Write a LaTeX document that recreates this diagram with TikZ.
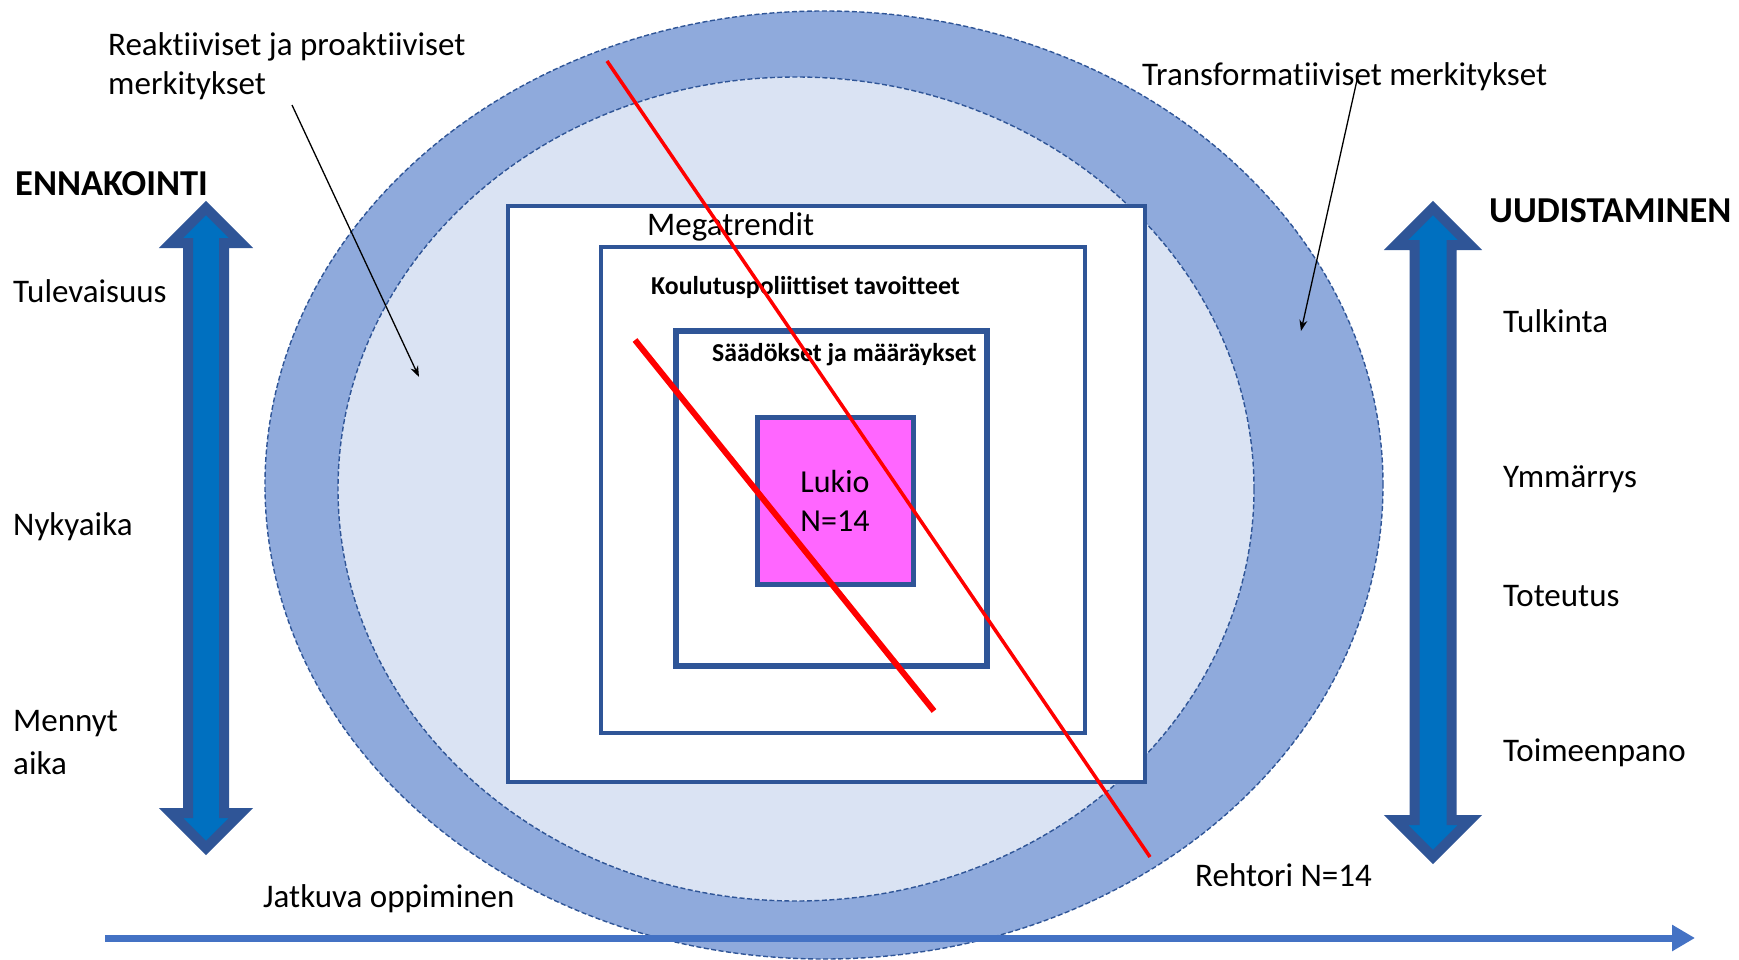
\documentclass[tikz,border=0pt]{standalone}
\usepackage{fontspec}
\setmainfont{Carlito}[Ligatures=NoCommon, RawFeature={-liga;-clig;-dlig}]
\usetikzlibrary{arrows.meta}

\definecolor{ringblue}{HTML}{8FAADC}
\definecolor{paleblue}{HTML}{DAE3F3}
\definecolor{frameblue}{HTML}{2F5597}
\definecolor{arrowblue}{HTML}{0070C0}
\definecolor{lineblue}{HTML}{4472C4}
\definecolor{lukiopink}{HTML}{FF66FF}
\definecolor{cutred}{HTML}{FF0000}

\begin{document}
\begin{tikzpicture}[x=1pt,y=-1pt,
  ring/.style={fill=#1, draw=frameblue, line width=1.4pt, dash pattern=on 5pt off 2.5pt},
  frame/.style={draw=frameblue, fill=white, line width=#1},
  blockarrow/.style={fill=arrowblue, draw=frameblue, line width=10pt, line join=miter, miter limit=10},
  label/.style={anchor=west, inner sep=0pt, font=\fontsize{33}{39}\selectfont},
  boldlabel/.style={anchor=west, inner sep=0pt, font=\fontsize{#1}{#1}\selectfont\bfseries},
  pointer/.style={draw=black, line width=1.3pt, -{Stealth[length=11pt,width=8pt]}},
  cut/.style={draw=cutred, line width=#1, line cap=butt}
]
\useasboundingbox (0,0) rectangle (1739,960);

% rings
\path[ring=ringblue] (824,485) ellipse [x radius=559pt, y radius=474pt];
\path[ring=paleblue] (796,489) ellipse [x radius=458pt, y radius=412pt];

% nested frames
\draw[frame=4.5pt] (508,206) rectangle (1145,782);
\draw[frame=4.5pt] (601,247) rectangle (1085,733);
\draw[frame=6pt] (676,331) rectangle (987,666);
\draw[draw=frameblue, fill=lukiopink, line width=5pt] (757,417) rectangle (913,584);

% time axis on the left, renewal axis on the right
\path[blockarrow] (206,208) -- (241,243) -- (224,243) -- (224,813) -- (241,813)
  -- (206,848) -- (171,813) -- (188,813) -- (188,243) -- (171,243) -- cycle;
\path[blockarrow] (1433,208) -- (1470,245) -- (1451.5,245) -- (1451.5,820) -- (1470,820)
  -- (1433,857) -- (1396,820) -- (1414.5,820) -- (1414.5,245) -- (1396,245) -- cycle;

% continuous learning axis
\coordinate (learnStart) at (105,938);
\coordinate (learnEnd) at (1695,938);
\draw[lineblue, line width=7pt, -{Triangle[length=23pt,width=25pt]}] (learnStart) -- (learnEnd);

% texts
\node[boldlabel=36.5] (ennakointi) at (15,184) {ENNAKOINTI};
\node[boldlabel=36.5] (uudistaminen) at (1489,211) {UUDISTAMINEN};

\node[label] (tulevaisuus) at (13,291) {Tulevaisuus};
\node[label] (nykyaika) at (13,527) {Nykyaika};
\node[label] (mennyt) at (13,724) {Mennyt};
\node[label] (aika) at (13,763) {aika};

\node[label] (tulkinta) at (1503,321) {Tulkinta};
\node[label] (ymmarrys) at (1503,479) {Ymmärrys};
\node[label] (toteutus) at (1503,596) {Toteutus};
\node[label] (toimeenpano) at (1503,753) {Toimeenpano};

\node[label] (reakt1) at (108,47) {Reaktiiviset ja proaktiiviset};
\node[label] (reakt2) at (108,86) {merkitykset};
\node[label] (transf) at (1142,77) {Transformatiiviset merkitykset};

\node[label] (jatkuva) at (263,899) {Jatkuva oppiminen};
\node[label] (rehtori) at (1195,875) {Rehtori N=14};

\node[label] (mega) at (647,227) {Megatrendit};
\node[boldlabel=25.8] (koulutus) at (651,287) {Koulutuspoliittiset tavoitteet};
\node[boldlabel=25.8] (saadokset) at (712,355) {Säädökset ja määräykset};
\node[align=center, inner sep=0pt, font=\fontsize{32}{39}\selectfont] (lukio) at (835,501) {Lukio\\N=14};

% pointers from the ring captions
\coordinate (reaktFrom) at (292,105);
\coordinate (reaktTo) at (419,377);
\coordinate (transfFrom) at (1357,80);
\coordinate (transfTo) at (1301,331);
\draw[pointer] (reaktFrom) -- (reaktTo);
\draw[pointer] (transfFrom) -- (transfTo);

% red cut lines
\coordinate (longA) at (607,61);
\coordinate (longB) at (1150,857);
\coordinate (shortA) at (635,340);
\coordinate (shortB) at (934,711);
\draw[cut=3.5pt] (longA) -- (longB);
\draw[cut=6pt] (shortA) -- (shortB);
\end{tikzpicture}
\end{document}
